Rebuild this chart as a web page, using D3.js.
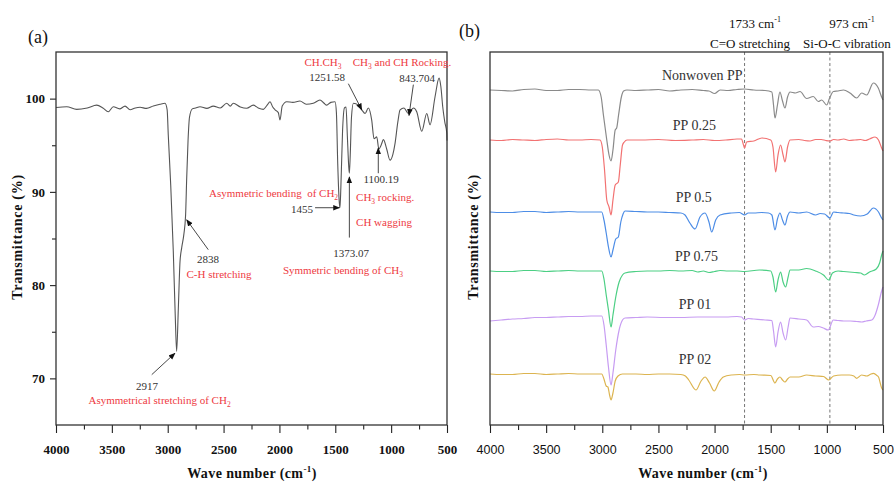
<!DOCTYPE html>
<html><head><meta charset="utf-8">
<script src="https://cdn.jsdelivr.net/npm/d3@7"></script>
<style>body{margin:0;background:#fff}svg{display:block}</style>
</head><body>
<svg id="c" width="894" height="483"></svg>
<script>
// ---------------- DATA ----------------
const xTickValues = [4000,3500,3000,2500,2000,1500,1000,500];
const xMinorValues = [3750,3250,2750,2250,1750,1250,750];
const yTickValuesA = [70,80,90,100];
const yMinorValuesA = [75,85,95];

// Panel (a): FTIR spectrum of nonwoven PP, [wavenumber, transmittance %]
const spectrumA = [
 [4000,99.05],[3904,99.13],[3815,98.85],[3720,99.0],[3636,99.3],[3580,99.0],[3532,98.6],[3487,99.13],
 [3430,98.9],[3382,99.2],[3337,98.8],[3290,99.0],[3248,99.07],[3190,98.95],[3129,99.2],[3069,99.4],
 [3024,99.5],[3005,98.8],[2995,96.1],[2973,90.7],[2950,83.6],[2932,76.5],[2920,72.9],[2905,77.5],
 [2890,82.5],[2875,84.0],[2855,85.5],[2840,87.5],[2830,91.5],[2818,95.5],[2805,98.0],[2780,98.9],
 [2750,99.0],[2711,99.13],[2650,98.95],[2592,99.2],[2530,99.0],[2472,99.5],[2440,99.2],[2413,99.5],
 [2350,99.1],[2293,98.96],[2234,99.3],[2190,99.0],[2144,98.85],[2110,99.3],[2084,99.67],[2060,99.1],
 [2039,98.8],[2010,98.5],[1995,97.7],[1975,99.2],[1935,99.67],[1880,99.6],[1816,99.74],[1760,99.4],
 [1697,99.5],[1637,99.85],[1600,99.5],[1577,99.3],[1540,99.6],[1502,99.67],[1490,98.5],[1478,93.0],
 [1465,89.0],[1458,88.3],[1450,90.5],[1435,96.5],[1418,99.0],[1404,99.1],[1392,96.0],[1380,92.8],
 [1374,92.0],[1366,94.0],[1355,98.0],[1338,99.5],[1293,99.3],[1263,98.8],[1233,98.4],[1204,99.0],
 [1174,97.7],[1153,95.7],[1129,95.9],[1110,94.6],[1090,95.0],[1069,95.6],[1040,94.6],[1010,93.4],
 [985,94.0],[965,95.2],[940,97.5],[920,98.8],[885,99.0],[846,98.4],[801,99.0],[771,98.6],
 [726,96.5],[681,98.4],[652,97.2],[607,100.2],[571,102.2],[555,101.3],[538,99.1],[520,97.5],
 [502,96.3],[500,95.5]
];

// Panel (b): stacked spectra (arbitrary transmittance units, offset)
const seriesNames = ["Nonwoven PP","PP 0.25","PP 0.5","PP 0.75","PP 01","PP 02"];
const seriesColors = ["#8a8a8a","#f27272","#4d8de6","#4ccf84","#c79cf2","#dcb450"];
const seriesBaselines = [33.5,28.5,21.3,15.4,10.6,5.1];
const labelWavenumbers = [2110,2180,2185,2160,2175,2175];

const nonwovenPP = [
 [4000,33.5],[3900,33.45],[3800,33.4],[3700,33.55],[3600,33.6],[3500,33.45],[3400,33.45],[3300,33.55],
 [3200,33.55],[3100,33.5],[3035,33.5],[3010,32.8],[2990,31.0],[2960,28.5],[2940,27.0],[2922,26.4],
 [2905,27.5],[2885,29.5],[2872,29.7],[2855,31.0],[2830,32.8],[2810,33.4],[2780,33.5],[2700,33.45],
 [2600,33.5],[2500,33.55],[2400,33.4],[2300,33.5],[2200,33.55],[2100,33.45],[2050,33.4],[2000,33.15],
 [1950,33.5],[1880,33.45],[1800,33.55],[1733,33.6],[1650,33.5],[1550,33.45],[1490,33.3],[1475,32.0],
 [1462,30.7],[1440,32.0],[1418,33.3],[1395,32.4],[1373,31.7],[1350,32.8],[1328,33.3],[1280,33.2],
 [1239,33.35],[1180,32.65],[1121,32.85],[1076,32.35],[1046,32.5],[1001,32.0],[977,32.65],[942,33.35],
 [900,33.4],[853,33.5],[794,33.2],[734,32.7],[690,33.2],[645,33.0],[586,34.2],[542,33.7],[512,32.8],[500,32.5]
];
const pp025 = [
 [4000,28.5],[3900,28.45],[3800,28.55],[3700,28.5],[3600,28.45],[3500,28.55],[3400,28.6],[3300,28.5],
 [3200,28.5],[3100,28.55],[3020,28.5],[3000,27.8],[2980,25.5],[2960,22.5],[2940,21.8],[2922,21.0],
 [2905,22.5],[2885,24.0],[2857,24.3],[2840,26.0],[2820,28.0],[2804,28.3],[2780,28.5],[2650,28.5],
 [2500,28.55],[2350,28.45],[2200,28.5],[2100,28.55],[2000,28.45],[1900,28.5],[1800,28.6],[1760,28.6],
 [1745,28.1],[1733,27.7],[1715,28.3],[1650,28.4],[1579,28.7],[1500,28.5],[1480,27.8],[1456,25.3],
 [1435,27.0],[1412,28.0],[1390,27.0],[1373,26.3],[1350,27.8],[1328,28.5],[1250,28.55],[1200,28.45],
 [1150,28.4],[1100,28.55],[1050,28.55],[1010,28.45],[973,28.4],[940,28.55],[900,28.5],[850,28.6],
 [800,28.45],[750,28.5],[700,28.55],[660,28.45],[620,28.6],[571,28.8],[540,28.5],[512,27.7],[500,27.4]
];
const pp05 = [
 [4000,21.3],[3900,21.25],[3800,21.25],[3700,21.35],[3600,21.35],[3500,21.25],[3400,21.3],[3300,21.35],
 [3200,21.3],[3100,21.3],[3005,21.3],[2985,20.5],[2965,19.2],[2945,17.8],[2922,16.8],[2905,17.5],
 [2880,18.6],[2857,18.8],[2835,20.3],[2815,21.1],[2798,21.4],[2700,21.35],[2600,21.3],[2500,21.3],
 [2400,21.25],[2300,21.2],[2263,21.0],[2220,20.2],[2174,19.6],[2130,20.8],[2085,21.2],[2050,20.3],
 [2026,19.3],[1990,20.5],[1951,21.0],[1850,21.2],[1780,21.25],[1733,21.0],[1700,21.2],[1650,21.2],
 [1580,21.25],[1520,21.2],[1490,21.0],[1462,19.5],[1440,20.6],[1418,21.2],[1395,20.5],[1373,20.0],
 [1350,20.9],[1328,21.3],[1250,21.2],[1180,21.3],[1100,21.0],[1060,21.15],[1020,21.1],[973,20.7],
 [940,21.3],[900,21.25],[850,21.2],[800,21.15],[760,21.0],[700,20.9],[640,21.1],[586,21.7],[540,21.3],
 [512,20.7],[500,20.5]
];
const pp075 = [
 [4000,15.4],[3900,15.35],[3800,15.35],[3700,15.45],[3600,15.45],[3500,15.35],[3400,15.4],[3300,15.45],
 [3200,15.4],[3100,15.4],[3005,15.4],[2985,14.6],[2965,13.0],[2945,11.5],[2922,9.8],[2905,11.0],
 [2880,12.8],[2850,14.3],[2820,15.0],[2798,15.2],[2700,15.35],[2600,15.4],[2500,15.4],[2400,15.45],
 [2300,15.4],[2200,15.45],[2150,15.3],[2100,15.4],[2050,15.25],[2000,15.35],[1950,15.45],[1880,15.4],
 [1800,15.4],[1733,15.35],[1600,15.5],[1500,15.4],[1480,14.8],[1456,13.3],[1435,14.5],[1412,15.3],
 [1390,14.3],[1367,13.8],[1345,14.8],[1328,15.5],[1250,15.5],[1180,15.65],[1100,15.4],[1030,15.0],
 [983,14.5],[950,15.2],[900,15.4],[850,15.35],[800,15.3],[750,15.25],[700,15.2],[665,15.0],[620,15.3],
 [560,15.6],[530,16.2],[512,17.0],[500,17.4]
];
const pp01 = [
 [4000,10.4],[3900,10.5],[3800,10.6],[3700,10.65],[3600,10.75],[3500,10.75],[3400,10.8],[3300,10.85],
 [3200,10.85],[3100,10.9],[3005,10.9],[2985,10.0],[2965,8.0],[2945,5.8],[2922,4.0],[2905,5.2],
 [2880,7.5],[2850,9.5],[2820,10.5],[2798,10.7],[2700,10.75],[2600,10.8],[2450,10.75],[2300,10.75],
 [2150,10.8],[2000,10.8],[1900,10.8],[1800,10.85],[1760,10.8],[1733,10.5],[1700,10.65],[1650,10.6],
 [1550,10.5],[1490,10.45],[1475,9.4],[1456,7.8],[1435,9.3],[1412,10.3],[1390,9.2],[1367,8.5],
 [1345,9.8],[1328,10.7],[1250,10.6],[1180,10.5],[1121,9.8],[1075,9.85],[1032,9.7],[988,9.5],
 [942,10.5],[900,10.45],[850,10.4],[790,10.4],[734,10.35],[690,10.3],[650,10.4],[600,10.5],[570,11.0],
 [542,12.0],[512,13.4],[500,13.8]
];
const pp02 = [
 [4000,5.1],[3900,5.05],[3800,5.05],[3700,5.15],[3600,5.15],[3500,5.05],[3400,5.1],[3300,5.15],
 [3200,5.1],[3100,5.1],[3005,5.1],[2985,4.6],[2965,3.9],[2950,3.8],[2935,3.0],[2922,2.5],
 [2905,3.2],[2885,4.4],[2860,4.9],[2820,5.1],[2700,5.1],[2600,5.05],[2500,5.1],[2400,5.1],
 [2300,5.05],[2260,4.9],[2230,4.5],[2166,3.5],[2120,4.4],[2085,4.8],[2045,4.2],[2003,3.4],
 [1960,4.3],[1922,4.8],[1850,5.0],[1780,5.05],[1733,5.0],[1650,5.05],[1600,5.0],[1500,4.95],
 [1462,4.2],[1440,4.6],[1418,4.8],[1395,4.5],[1373,4.3],[1350,4.6],[1328,4.8],[1250,4.8],
 [1180,5.0],[1100,4.9],[1030,4.85],[983,4.5],[940,4.9],[870,5.0],[800,5.0],[760,4.9],[734,4.67],
 [690,5.0],[645,4.9],[615,5.05],[586,5.17],[560,5.0],[540,4.8],[512,3.7],[500,3.5]
];
const seriesB = [nonwovenPP, pp025, pp05, pp075, pp01, pp02];
const markerWavenumbers = [1733, 973];

// ---------------- DRAWING ----------------
const svg = d3.select("#c");
const serif = "'Liberation Serif','Times New Roman',serif";
const sans = "'Liberation Sans',Arial,sans-serif";
const red = "#ee3a3f";

const A = {l:56, r:447, t:52, b:425};
const B = {l:490, r:883, t:52, b:425};

const xA = d3.scaleLinear().domain([4000,500]).range([A.l, A.r]);
const yA = d3.scaleLinear().domain([65,105]).range([A.b, A.t]);
const xB = d3.scaleLinear().domain([4000,500]).range([B.l, B.r]);
const yB = d3.scaleLinear().domain([0,37.3]).range([B.b, B.t]);

function styleAxis(g, font, weight, size){
  g.selectAll(".domain").remove();
  g.selectAll("line").attr("stroke","#222").attr("stroke-width",1.1);
  g.selectAll("text").attr("font-family",font).attr("font-weight",weight).attr("font-size",size).attr("fill","#111");
}

// ---- Panel (a) ----
const gA = svg.append("g");
gA.append("g").attr("transform",`translate(0,${A.b})`)
  .call(d3.axisBottom(xA).tickValues(xTickValues).tickSize(8).tickSizeOuter(0).tickPadding(12).tickFormat(d3.format("d")))
  .call(g=>styleAxis(g, serif, "bold", 13));
gA.append("g").attr("transform",`translate(0,${A.b})`)
  .call(d3.axisBottom(xA).tickValues(xMinorValues).tickSize(4.5).tickFormat(""))
  .call(g=>styleAxis(g, serif, "bold", 13));
gA.append("g").attr("transform",`translate(${A.l},0)`)
  .call(d3.axisLeft(yA).tickValues(yTickValuesA).tickSize(6).tickPadding(5))
  .call(g=>styleAxis(g, serif, "bold", 13));
gA.append("g").attr("transform",`translate(${A.l},0)`)
  .call(d3.axisLeft(yA).tickValues(yMinorValuesA).tickSize(4).tickFormat(""))
  .call(g=>styleAxis(g, serif, "bold", 13));

const lineA = d3.line().x(d=>xA(d[0])).y(d=>yA(d[1])).curve(d3.curveMonotoneX);
gA.append("path").datum(spectrumA).attr("d",lineA)
  .attr("fill","none").attr("stroke","#555").attr("stroke-width",1.1);

gA.append("rect").attr("x",A.l).attr("y",A.t).attr("width",A.r-A.l).attr("height",A.b-A.t)
  .attr("fill","none").attr("stroke","#333").attr("stroke-width",1.3);

// arrow marker
svg.append("defs").append("marker").attr("id","ah").attr("viewBox","0 0 10 10")
  .attr("refX",9).attr("refY",5).attr("markerWidth",7).attr("markerHeight",7)
  .attr("markerUnits","userSpaceOnUse").attr("orient","auto")
  .append("path").attr("d","M0,1 L10,5 L0,9 Z").attr("fill","#111");

const arrowsA = [
  [[1383,101.6],[1263,98.8]],
  [[801,101.5],[840,98.2]],
  [[1115,92.0],[1115,94.7]],
  [[1681,88.3],[1462,88.3]],
  [[1374,85.1],[1374,91.6]],
  [[2637,83.8],[2830,87.0]],
  [[3143,70.4],[2935,72.7]]
];
arrowsA.forEach(a=>{
  gA.append("line").attr("x1",xA(a[0][0])).attr("y1",yA(a[0][1]))
    .attr("x2",xA(a[1][0])).attr("y2",yA(a[1][1]))
    .attr("stroke","#333").attr("stroke-width",0.9).attr("marker-end","url(#ah)");
});

// annotations: [text, subscript, wn, T, anchor, colour]
const annotA = [
  ["CH.CH","3",1610,103.5,"middle",red],
  ["CH","3 and CH Rocking.",903,103.5,"middle",red],
  ["1251.58","",1574,101.9,"middle","#333"],
  ["843.704","",768,101.8,"middle","#333"],
  ["1100.19","",1090,90.95,"middle","#333"],
  ["CH","3 rocking.",1314,89.0,"start",red],
  ["CH wagging","",1314,86.35,"start",red],
  ["Asymmetric bending  of CH","2",1475,89.45,"end",red],
  ["1455","",1699,87.7,"end","#333"],
  ["1373.07","",1359,83.0,"middle","#333"],
  ["Symmetric bending of CH","3",1431,81.2,"middle",red],
  ["2838","",2639,82.4,"middle","#333"],
  ["C-H stretching","",2541,80.8,"middle",red],
  ["2917","",3185,68.8,"middle","#333"],
  ["Asymmetrical stretching of CH","2",3073,67.2,"middle",red]
];
annotA.forEach(a=>{
  const t = gA.append("text").attr("x",xA(a[2])).attr("y",yA(a[3]))
    .attr("text-anchor",a[4]).attr("font-family",serif).attr("font-size",11)
    .attr("fill",a[5]).style("white-space","pre");
  t.append("tspan").text(a[0]);
  if(a[1]){
    const sub = a[1][0], rest = a[1].slice(1);
    t.append("tspan").attr("font-size",7.5).attr("dy",3).text(sub);
    if(rest) t.append("tspan").attr("dy",-3).text(rest);
  }
});

gA.append("text").attr("x",28).attr("y",43).attr("font-family",serif).attr("font-size",18).attr("fill","#111").text("(a)");

function axisTitles(g, cx, ty, cyY){
  const t = g.append("text").attr("x",cx).attr("y",478).attr("text-anchor","middle")
    .attr("font-family",serif).attr("font-weight","bold").attr("font-size",14)
    .attr("letter-spacing",0.4).attr("fill","#111");
  t.append("tspan").text("Wave number (cm");
  t.append("tspan").attr("dy",-6).attr("font-size",9).text("-1");
  t.append("tspan").attr("dy",6).text(")");
  g.append("text").attr("transform",`translate(${ty},${cyY}) rotate(-90)`).attr("text-anchor","middle")
    .attr("font-family",serif).attr("font-weight","bold").attr("font-size",14)
    .attr("letter-spacing",0.7).attr("fill","#111").text("Transmittance (%)");
}
axisTitles(gA, 252, 22, 237);

// ---- Panel (b) ----
const gB = svg.append("g");
gB.append("g").attr("transform",`translate(0,${B.b})`)
  .call(d3.axisBottom(xB).tickValues(xTickValues).tickSize(8).tickSizeOuter(0).tickPadding(12).tickFormat(d3.format("d")))
  .call(g=>styleAxis(g, sans, "normal", 12.5));
gB.append("g").attr("transform",`translate(0,${B.b})`)
  .call(d3.axisBottom(xB).tickValues(xMinorValues).tickSize(5).tickFormat(""))
  .call(g=>styleAxis(g, sans, "normal", 12.5));

markerWavenumbers.forEach(w=>{
  gB.append("line").attr("x1",xB(w)).attr("x2",xB(w)).attr("y1",B.t).attr("y2",B.b)
    .attr("stroke","#666").attr("stroke-width",0.9).attr("stroke-dasharray","3,2.5");
});

const lineB = d3.line().x(d=>xB(d[0])).y(d=>yB(d[1])).curve(d3.curveMonotoneX);
seriesB.forEach((s,i)=>{
  gB.append("path").datum(s).attr("d",lineB).attr("fill","none")
    .attr("stroke",seriesColors[i]).attr("stroke-width",1.2);
  gB.append("text").attr("x",xB(labelWavenumbers[i])).attr("y",yB(seriesBaselines[i])-10)
    .attr("text-anchor","middle").attr("font-family",serif).attr("font-size",14)
    .attr("fill","#333").text(seriesNames[i]);
});

gB.append("rect").attr("x",B.l).attr("y",B.t).attr("width",B.r-B.l).attr("height",B.b-B.t)
  .attr("fill","none").attr("stroke","#333").attr("stroke-width",1.3);

const topLabels = [
  [1640,"1733 cm","C=O stretching",1684],
  [776,"973 cm","Si-O-C vibration",821]
];
topLabels.forEach(l=>{
  const t = gB.append("text").attr("x",xB(l[0])).attr("y",B.t-24).attr("text-anchor","middle")
    .attr("font-family",serif).attr("font-size",13).attr("fill","#111");
  t.append("tspan").text(l[1]);
  t.append("tspan").attr("dy",-6).attr("font-size",8).text("-1");
  gB.append("text").attr("x",xB(l[3])).attr("y",B.t-4).attr("text-anchor","middle")
    .attr("font-family",serif).attr("font-size",13).attr("fill","#111").text(l[2]);
});

gB.append("text").attr("x",459).attr("y",37).attr("font-family",serif).attr("font-size",18).attr("fill","#111").text("(b)");
axisTitles(gB, 703, 478, 237);
</script>
</body></html>
